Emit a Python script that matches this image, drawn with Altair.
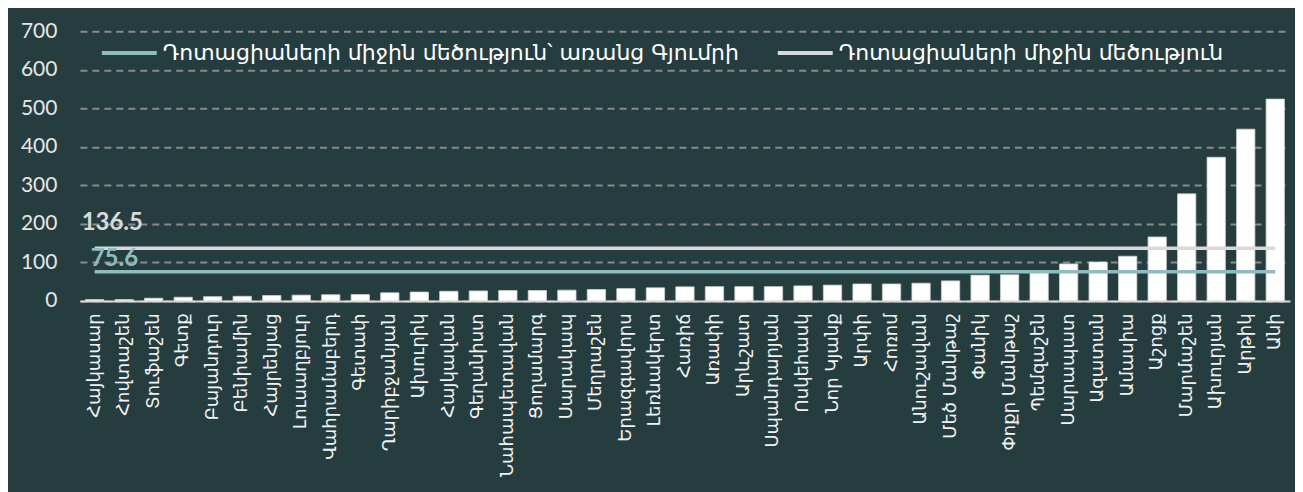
import altair as alt
import pandas as pd

communities = [
    "Հայկասար", "Հովտաշեն", "Տուֆաշեն", "Գետք", "Բայանդուր", "Բենիամին",
    "Հայրենյաց", "Լուսաղբյուր", "Վահրամաբերդ", "Գետափ", "Ղարիբջանյան",
    "Ախուրիկ", "Հայկավան", "Գեղանիստ", "Նահապետավան", "Ցողամարգ", "Սարակապ",
    "Մեղրաշեն", "Երազգավորս", "Լեռնակերտ", "Հառիճ", "Առափի", "Արևշատ",
    "Սպանդարյան", "Ոսկեհասկ", "Նոր Կյանք", "Արփի", "Հոռոմ", "Անուշավան",
    "Մեծ Մանթաշ", "Փանիկ", "Փոքր Մանթաշ", "Պեմզաշեն", "Սարապատ", "Ազատան",
    "Ամասիա", "Աշոցք", "Մարմաշեն", "Ախուրյան", "Արթիկ", "Անի",
]
dotations = [
    3.5, 3.5, 7, 9.5, 11, 12, 14, 15, 16, 16.5, 21,
    23, 25, 26, 27, 27, 28, 29.5, 32, 34, 36.5, 37, 37,
    37, 39, 41, 44, 44, 46, 52, 67, 68, 75, 96, 101,
    116, 166, 278, 373, 446, 524,
]

mean_series = [
    "Դոտացիաների միջին մեծություն՝ առանց Գյումրի",
    "Դոտացիաների միջին մեծություն",
]
mean_values = [75.6, 136.5]
mean_texts = ["75.6", "136.5"]
mean_colors = ["#8fbcbf", "#d9d9d9"]

y_ticks = [0, 100, 200, 300, 400, 500, 600, 700]

bars_df = pd.DataFrame({"community": communities, "value": dotations})
means_df = pd.DataFrame({
    "series": mean_series,
    "value": mean_values,
    "text": mean_texts,
    "start": [communities[0]] * 2,
    "end": [communities[-1]] * 2,
})

BG = "#263d40"
ARM_FONT = "DejaVu Sans"

x_scale = alt.Scale(domain=communities, paddingInner=0.38, paddingOuter=0.19)
y_scale = alt.Scale(domain=[0, 700], nice=False)

x_axis = alt.Axis(
    title=None, labelAngle=-90, labelFont=ARM_FONT, labelFontSize=18,
    labelColor="#f2f2f2", labelPadding=12, ticks=False,
    domain=True, domainColor="#d9d9d9", domainWidth=2,
    labelLimit=0, labelOverlap=False,
)
y_axis = alt.Axis(
    title=None, values=y_ticks, tickCount=8, grid=True, gridDash=[7, 5],
    gridColor="#8a8a8a", gridWidth=2, domain=False, ticks=False,
    labelFont="Lato", labelFontSize=21, labelColor="#e6e6e6",
    labelPadding=23, labelOverlap=False,
)

bars = alt.Chart(bars_df).mark_bar(
    color="white", stroke="#d0d0d0", strokeWidth=0.8
).encode(
    x=alt.X("community:N", sort=None, scale=x_scale, axis=x_axis),
    y=alt.Y("value:Q", scale=y_scale, axis=y_axis),
)

rules = alt.Chart(means_df).mark_rule(strokeWidth=3.5).encode(
    x=alt.X("start:N", scale=x_scale, sort=None, axis=x_axis),
    x2="end:N",
    y=alt.Y("value:Q", scale=y_scale, axis=y_axis),
    color=alt.Color(
        "series:N",
        scale=alt.Scale(domain=mean_series, range=mean_colors),
        legend=alt.Legend(
            title=None, orient="none", legendX=20, legendY=-8,
            direction="horizontal", symbolType="stroke", symbolSize=3025,
            symbolStrokeWidth=4, labelFont=ARM_FONT, labelFontSize=22,
            labelColor="white", columnPadding=30, labelOffset=4, labelLimit=0,
        ),
    ),
)

text_all = alt.Chart(means_df).transform_filter(
    alt.datum.text == "136.5"
).mark_text(
    align="left", baseline="middle", dx=-13, dy=-25, font="Lato",
    fontSize=24, fontWeight="bold", color=mean_colors[1],
).encode(
    x=alt.X("start:N", scale=x_scale, sort=None, axis=x_axis),
    y=alt.Y("value:Q", scale=y_scale, axis=y_axis),
    text="text:N",
)

text_no = alt.Chart(means_df).transform_filter(
    alt.datum.text == "75.6"
).mark_text(
    align="left", baseline="middle", dx=-4, dy=-13, font="Lato",
    fontSize=24, fontWeight="bold", color=mean_colors[0],
).encode(
    x=alt.X("start:N", scale=x_scale, sort=None, axis=x_axis),
    y=alt.Y("value:Q", scale=y_scale, axis=y_axis),
    text="text:N",
)

chart = alt.layer(bars, rules, text_all, text_no).properties(
    width=1212, height=270,
    autosize=alt.AutoSizeParams(type="none"),
    padding={"left": 72, "top": 23, "right": 5, "bottom": 191},
    background=BG,
).configure_view(stroke=None)

chart.save("out.html", embed_options={"renderer": "svg", "actions": False})
